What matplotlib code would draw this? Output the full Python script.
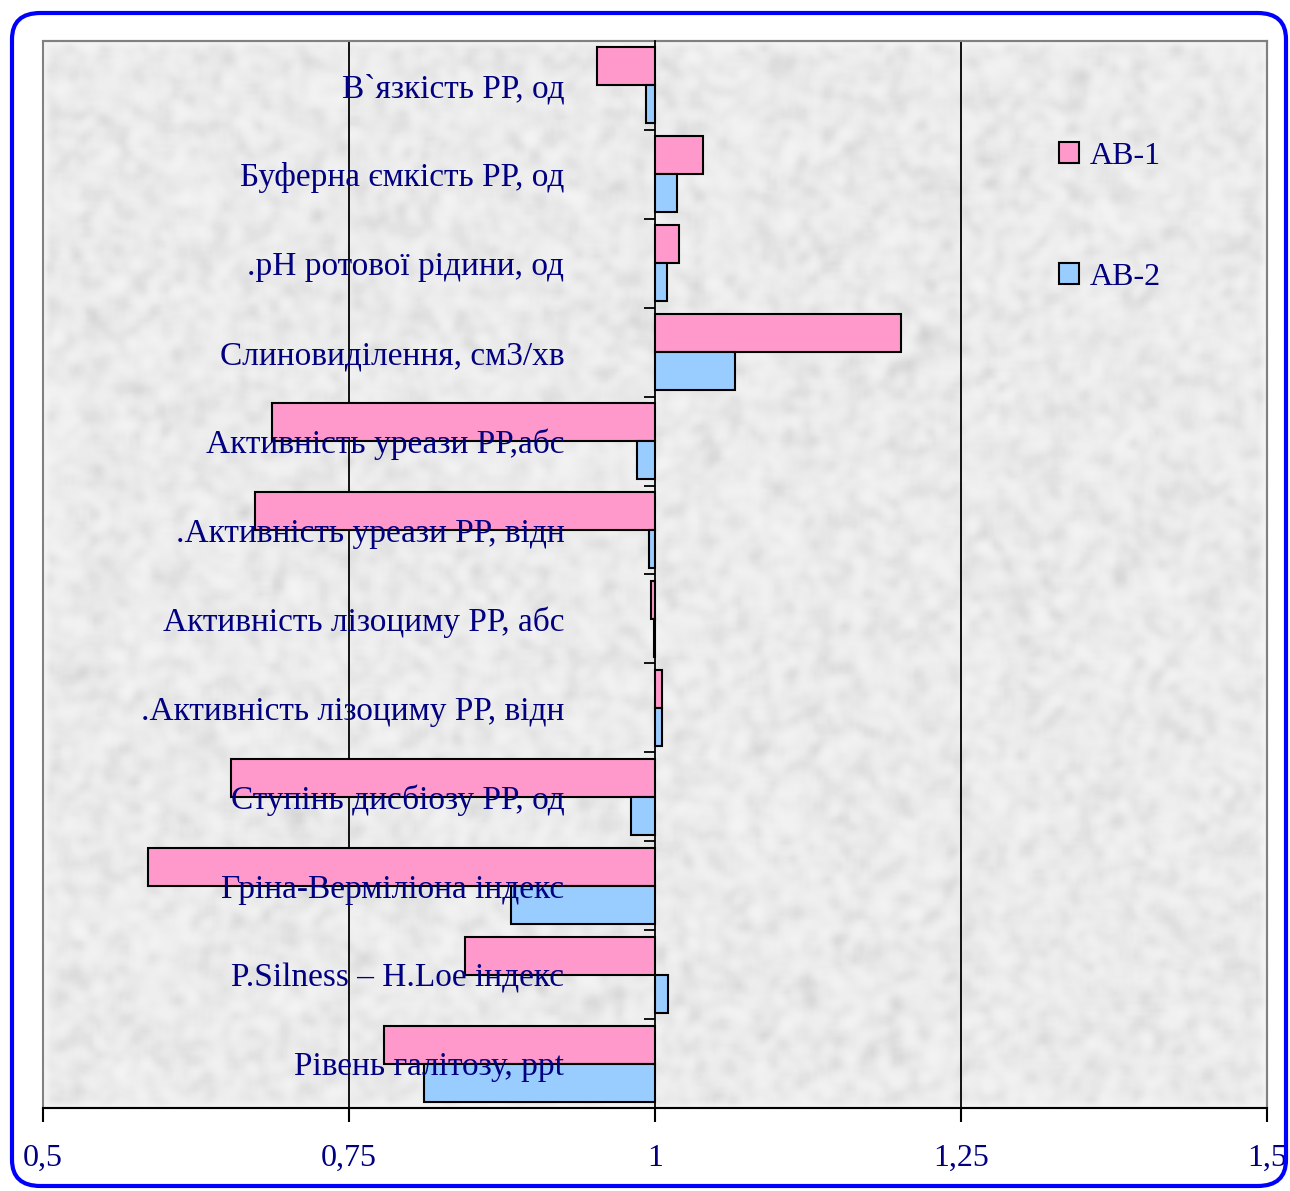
import numpy as np
import matplotlib
matplotlib.use("Agg")
import matplotlib.pyplot as plt
from matplotlib.patches import FancyBboxPatch, Rectangle

# Indicators (top to bottom) and relative values for the two groups
categories = [
    "В`язкість РР, од",
    "Буферна ємкість РР, од",
    ".pH ротової рідини, од",
    "Слиновиділення, см3/хв",
    "Активність уреази РР,абс",
    ".Активність уреази РР, відн",
    "Активність лізоциму РР, абс",
    ".Активність лізоциму РР, відн",
    "Ступінь дисбіозу РР, од",
    "Гріна-Верміліона індекс",
    "P.Silness – H.Loe індекс",
    "Рівень галітозу, ppt",
]
ab1 = [0.953, 1.039, 1.020, 1.201, 0.687, 0.673, 0.997, 1.006, 0.654, 0.586, 0.845, 0.779]
ab2 = [0.993, 1.018, 1.010, 1.065, 0.985, 0.995, 0.999, 1.006, 0.980, 0.882, 1.011, 0.811]
series_names = ["АВ-1", "АВ-2"]
xticks = [0.5, 0.75, 1.0, 1.25, 1.5]
xtick_labels = ["0,5", "0,75", "1", "1,25", "1,5"]

navy = "#000080"
pink = "#ff99cc"
blue = "#99ccff"
serif = ["Liberation Serif", "DejaVu Serif"]

W, H = 1290, 1191
fig = plt.figure(figsize=(W / 100, H / 100), dpi=100)
fig.patch.set_facecolor("white")

ax = fig.add_axes([43 / W, 1 - 1108 / H, (1267 - 43) / W, (1108 - 41) / H])

# granite-like plot area fill
rng = np.random.default_rng(7)
noise = rng.random((300, 340))
k = np.ones(3) / 3
for _ in range(2):
    noise = np.apply_along_axis(lambda r: np.convolve(r, k, mode="same"), 1, noise)
    noise = np.apply_along_axis(lambda c: np.convolve(c, k, mode="same"), 0, noise)
noise = (noise - noise.min()) / (noise.max() - noise.min())
tex = 0.955 - 0.13 * noise ** 2.2
ax.imshow(tex, cmap="gray", vmin=0, vmax=1, extent=(0, 1, 0, 1),
          transform=ax.transAxes, aspect="auto", zorder=0, interpolation="bilinear")

n = len(categories)
y = np.arange(n)
h = 0.427
base = 1.0
ax.barh(y - h / 2, np.array(ab1) - base, left=base, height=h, color=pink,
        edgecolor="black", linewidth=1.5, label=series_names[0], zorder=3)
ax.barh(y + h / 2, np.array(ab2) - base, left=base, height=h, color=blue,
        edgecolor="black", linewidth=1.5, label=series_names[1], zorder=3)

ax.set_xlim(0.5, 1.5)
ax.set_ylim(n - 0.5, -0.5)

# vertical grid lines
for gx in (0.75, 1.25):
    ax.axvline(gx, color="black", linewidth=1.3, zorder=2)

# category axis crossing at 1
ax.spines["left"].set_position(("data", 1.0))
ax.spines["left"].set_color("black")
ax.spines["left"].set_linewidth(1.3)
ax.spines["left"].set_zorder(4)
ax.set_yticks(np.arange(n + 1) - 0.5)
ax.set_yticklabels([])
ax.tick_params(axis="y", length=8, width=1.3, direction="out", color="black")

for s in ("top", "right"):
    ax.spines[s].set_color("#808080")
    ax.spines[s].set_linewidth(1.5)
ax.spines["bottom"].set_color("black")
ax.spines["bottom"].set_linewidth(1.5)
ax.add_patch(Rectangle((0, 0), 1, 1, transform=ax.transAxes, fill=False,
                       edgecolor="#808080", linewidth=1.5, zorder=1, clip_on=False))

ax.set_xticks(xticks)
ax.set_xticklabels(xtick_labels, fontfamily=serif, fontsize=23, color=navy)
ax.tick_params(axis="x", length=10, width=1.5, direction="out", pad=16)

# category labels
for i, lab in enumerate(categories):
    ax.text(0.926, i + 0.04, lab, ha="right", va="center", fontsize=24,
            fontfamily=serif, color=navy, zorder=6)

leg = ax.legend(loc="upper left", bbox_to_anchor=(1043 / W, 1 - 126 / H),
                bbox_transform=fig.transFigure, frameon=False,
                prop={"family": serif, "size": 23}, labelcolor=navy,
                handlelength=0.62, handleheight=0.62, handletextpad=0.35,
                labelspacing=2.88, borderpad=0)
for hnd in leg.legend_handles:
    hnd.set_linewidth(1.5)

# rounded blue outer frame
frame = FancyBboxPatch((12 / W, 5 / H), (1286 - 12) / W, (1178 - 5) / H,
                       boxstyle="round,pad=0,rounding_size=0.022",
                       transform=fig.transFigure, fill=False,
                       edgecolor="#0000ff", linewidth=3, zorder=10)
fig.patches.append(frame)

fig.savefig("out.png", dpi=100)
